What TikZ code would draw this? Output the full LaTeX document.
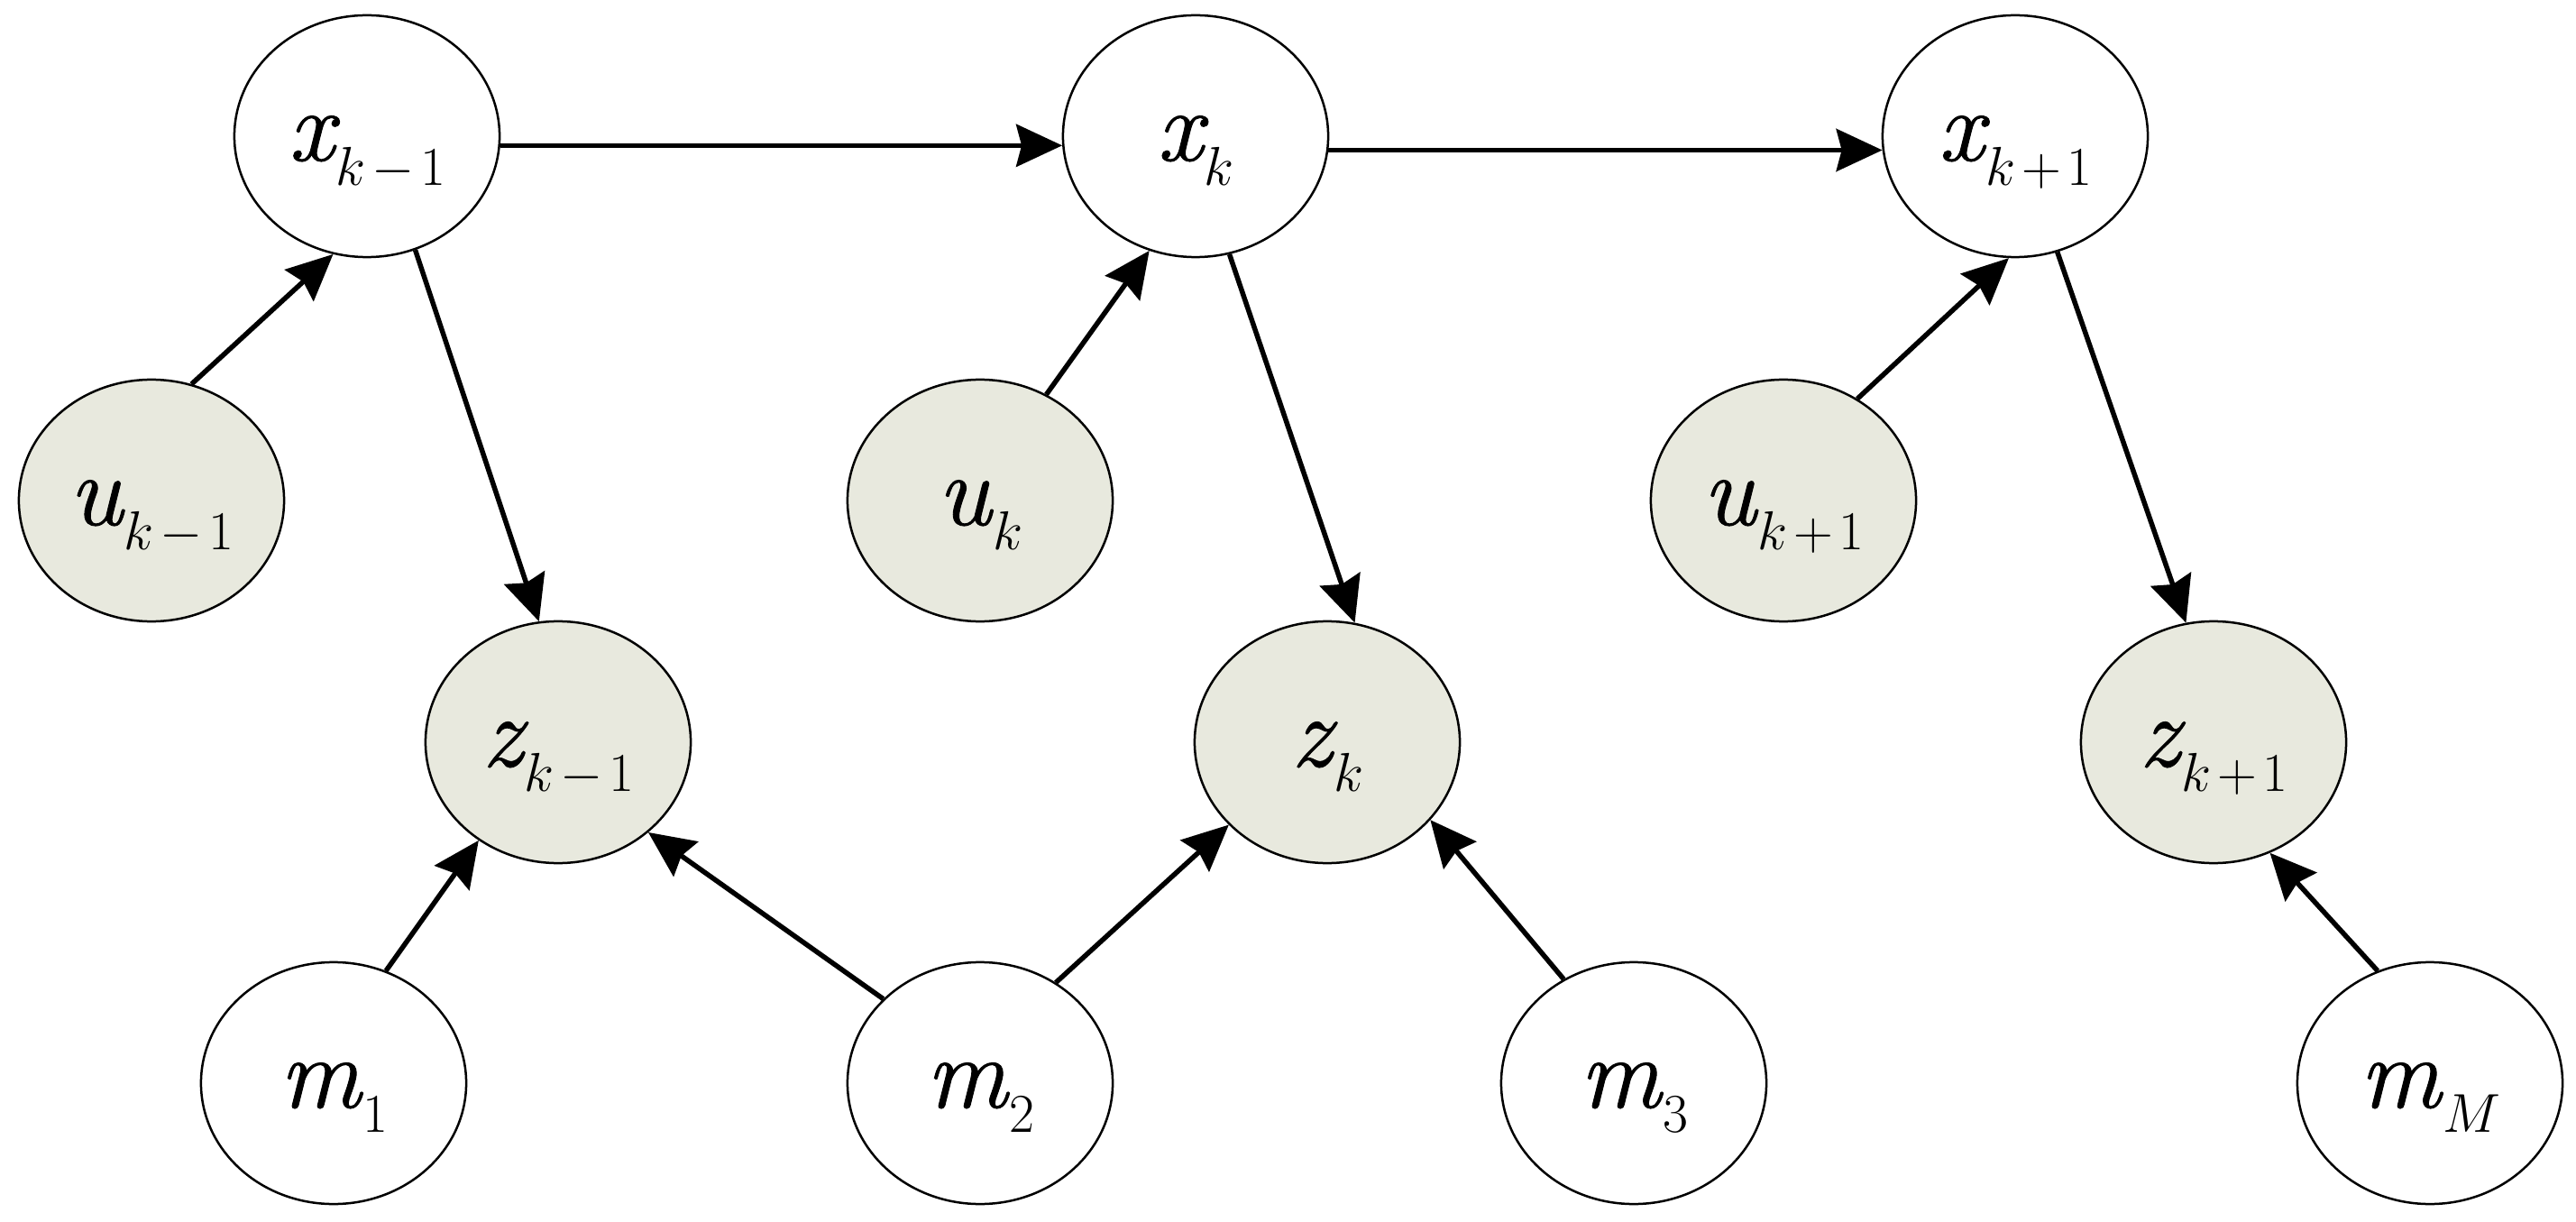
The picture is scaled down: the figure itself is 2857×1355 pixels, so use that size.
\documentclass[tikz,border=0pt]{standalone}
\usepackage{fontspec}
\newfontfamily\labfont{Latin Modern Roman}[ItalicFeatures={FakeBold=0.8}]
\usetikzlibrary{arrows.meta,shapes.geometric}
\definecolor{obsfill}{RGB}{232,233,222}
\newcommand{\vlab}[2]{{\fontsize{32}{32}\labfont\itshape #1}\kern0.02cm\raisebox{-0.27cm}{\fontsize{19}{19}\selectfont$#2$}}
\newcommand{\mn}{\mkern2mu{-}\mkern2mu}
\newcommand{\pl}{\mkern2mu{+}\mkern2mu}
\begin{document}
\begin{tikzpicture}[x=0.01cm,y=-0.01cm,
  var/.style={ellipse, draw, line width=0.025cm, minimum width=2.94cm, minimum height=2.68cm,
    inner sep=0pt, text height=0.54cm, text depth=0pt, fill=white},
  obs/.style={var, fill=obsfill},
  edge/.style={line width=0.055cm, -{Stealth[length=0.51cm,width=0.47cm,inset=0.06cm]}}]
\useasboundingbox (0,0) rectangle (2857,1355);
% top row
\node[var] (xkm1) at (407,151) {\vlab{x}{k\mn1}};
\node[var] (xk)   at (1326,151) {\vlab{x}{k}};
\node[var] (xkp1) at (2235,151) {\vlab{x}{k\pl1}};
% controls
\node[obs] (ukm1) at (168,555) {\vlab{u}{k\mn1}};
\node[obs] (uk)   at (1087,555) {\vlab{u}{k}};
\node[obs] (ukp1) at (1978,555) {\vlab{u}{k\pl1}};
% observations
\node[obs] (zkm1) at (619,823) {\vlab{z}{k\mn1}};
\node[obs] (zk)   at (1472,823) {\vlab{z}{k}};
\node[obs] (zkp1) at (2455,823) {\vlab{z}{k\pl1}};
% landmarks
\node[var] (m1) at (370,1201) {\vlab{m}{1}};
\node[var] (m2) at (1087,1201) {\vlab{m}{2}};
\node[var] (m3) at (1812,1201) {\vlab{m}{3}};
\node[var] (mM) at (2695,1201) {\vlab{m}{M}};
% edges
\draw[edge] (xkm1.-4.7) -- (xk.184.7);
\draw[edge] (xk.-6.6) -- (xkp1.186.6);
\draw[edge] (ukm1.71.3) -- (xkm1.254.2);
\draw[edge] (xkm1.-67.6) -- (zkm1.99.7);
\draw[edge] (m1.65.9) -- (zkm1.231.1);
\draw[edge] (m2.139.9) -- (zkm1.-45);
\draw[edge] (uk.58) -- (xk.248.3);
\draw[edge] (xk.-74.1) -- (zk.77.2);
\draw[edge] (m2.53) -- (zk.220);
\draw[edge] (m3.124.7) -- (zk.-37.5);
\draw[edge] (ukp1.54.7) -- (xkp1.267.4);
\draw[edge] (xkp1.-70.5) -- (zkp1.103.2);
\draw[edge] (mM.115.6) -- (zkp1.-63.1);
\end{tikzpicture}
\end{document}
